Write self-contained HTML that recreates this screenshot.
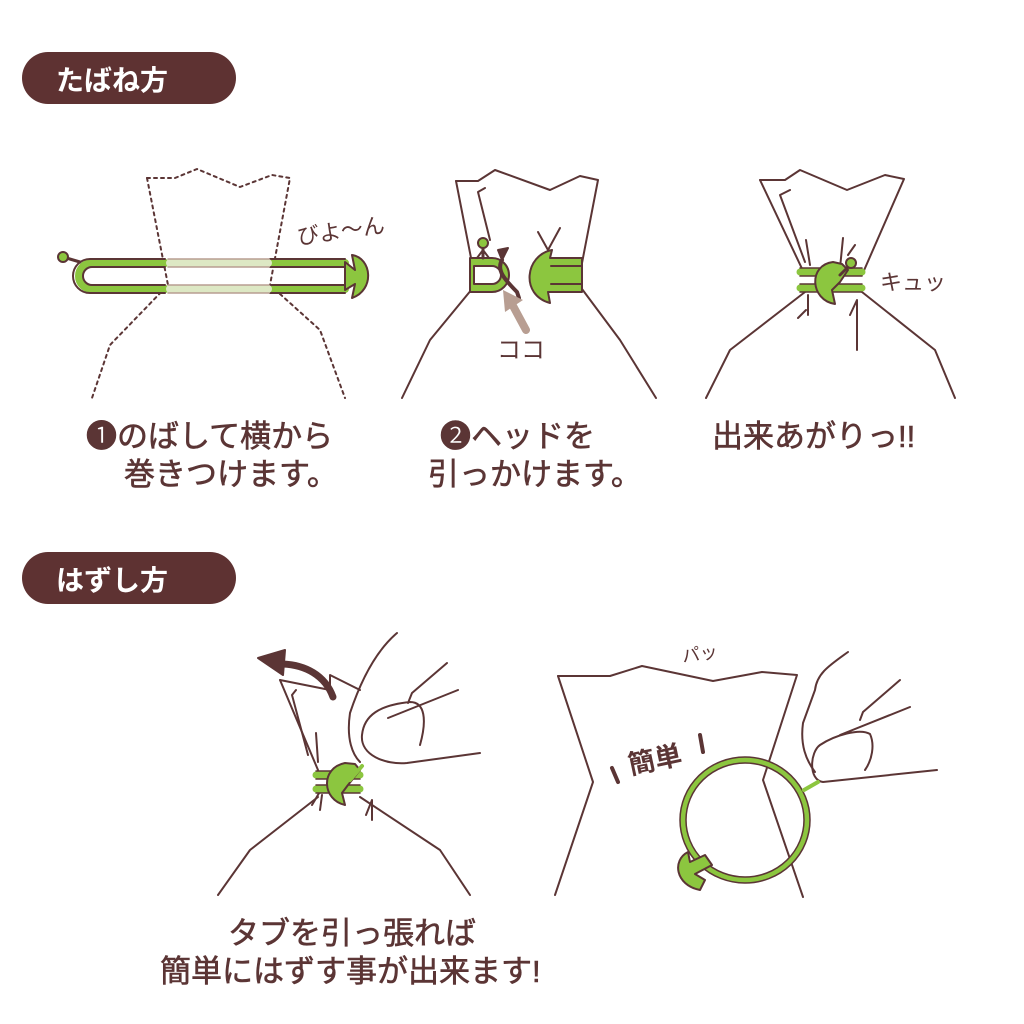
<!DOCTYPE html>
<html><head><meta charset="utf-8"><style>
body{margin:0;background:#fff}
svg{display:block}
text{font-family:"Liberation Sans","Noto Sans CJK JP",sans-serif;fill:#5b3535}
.cap{font-size:31px;stroke:#5b3535;stroke-width:0.6}
</style></head><body>
<svg width="1024" height="1024" viewBox="0 0 1024 1024" xmlns="http://www.w3.org/2000/svg">
<g stroke="#5b3535" stroke-width="2" fill="none" stroke-linejoin="round" stroke-linecap="round">
<rect x="22" y="52" width="214" height="52" rx="26" fill="#5e3232" stroke="none"/>
<rect x="22" y="552" width="214" height="52" rx="26" fill="#5e3232" stroke="none"/>

<g stroke-dasharray="3,4">
<path d="M147,178 L175,178 L197,169 L240,187 L272,175 L290,178 L270,285 L320,330 L345,398"/>
<path d="M147,178 L168,285 L110,345 L92,398"/>
</g>
<path d="M63,257 L80,262" stroke-width="3"/>
<circle cx="63" cy="257" r="5" fill="#8cc63f" stroke="#5b3535"/>
<path d="M165,263 H92 a13,13 0 0 0 0,26 H165 M270,263 H345 M270,289 H345" stroke="#8cc63f" stroke-width="8"/>
<path d="M165,259 H90 a17,17 0 0 0 0,34 H165 M165,267 H92 a9,9 0 0 0 0,18 H165 M270,259 H345 M270,267 H345 M270,285 H345 M270,293 H345" stroke-width="2"/>
<path d="M170,263 H268 M170,289 H268" stroke="#dde8c4" stroke-width="8"/>
<path d="M168,259 H269 M168,267 H269 M168,285 H269 M168,293 H269" stroke="#b89e92" stroke-width="1.5"/>
<path d="M345,262 L355,270 L352,255 C372,258 375,290 352,298 L355,284 L345,290 Z" fill="#8cc63f"/>

<path d="M456,181 L478,181 L495,170 L550,190 L580,176 L598,180 L582,263 M582,289 L620,340 L656,398"/>
<path d="M456,181 L472,263 M472,289 L430,340 L402,398"/>
<path d="M490,240 L478,192 L485,188 M548,250 L538,232 M548,250 L560,228"/>
<path d="M470,258 H492 a17,17 0 0 1 0,34 H470 Z" fill="#8cc63f"/>
<path d="M474,266 H492 a9,9 0 0 1 0,18 H474 Z" fill="#fff"/>
<path d="M483,258 V246" stroke-width="3"/>
<circle cx="483" cy="243" r="5" fill="#8cc63f"/>
<path d="M489,258 L483,250 M477,258 L483,250"/>
<path d="M502,260 C496,270 505,280 517,292 L519,298" stroke="#5b3535" stroke-width="4"/>
<path d="M502,260 L498,250 L508,248 Z" fill="#5b3535"/>
<path d="M582,258 H550 L552,250 C525,255 520,295 550,303 L548,292 H582 Z" fill="#8cc63f"/>
<path d="M551,266 H582 M551,284 H582"/>
<path d="M526,330 L512,304" stroke="#b89e92" stroke-width="8"/>
<path d="M503,290 L523,300 L505,312 Z" fill="#b89e92" stroke="none"/>

<path d="M760,180 L785,180 L800,170 L847,190 L885,175 L904,179 L862,275 M862,292 L935,350 L955,398"/>
<path d="M760,180 L805,275 M805,292 L730,350 L706,398"/>
<path d="M790,190 L780,195 L805,262 M806,240 L810,265 M843,238 L840,268 M848,255 L855,245 M806,310 L798,318 M808,295 L808,315 M857,350 L857,300 L850,315"/>
<path d="M800,272 H862 M800,288 H862" stroke="#8cc63f" stroke-width="7"/>
<path d="M800,268 H862 M800,276 H862 M800,284 H862 M800,292 H862" stroke-width="1.5"/>
<path d="M833,262 C808,265 810,300 835,304 L832,290 L840,282 L848,270 L842,264 Z" fill="#8cc63f"/>
<path d="M840,275 L850,265" stroke-width="3"/>
<circle cx="851" cy="263" r="5" fill="#8cc63f"/>

<path d="M280,680 L330,690 L330,675 L360,690"/>
<path d="M280,680 L318,770 M318,797 L250,850 L218,895"/>
<path d="M360,797 L440,850 L470,895"/>
<path d="M296,690 L292,695 L308,755 M316,733 L318,762 M322,788 L315,800 L312,805 M372,820 L372,800 L366,815 M322,795 L320,810"/>
<path d="M316,775 H360 M316,789 H360" stroke="#8cc63f" stroke-width="7"/>
<path d="M316,771 H360 M316,779 H360 M316,785 H360 M316,793 H360" stroke-width="1.5"/>
<path d="M345,763 C320,768 322,800 345,805 L342,793 L348,785 L360,770 L355,764 Z" fill="#8cc63f"/>
<path d="M350,780 L362,766" stroke="#8cc63f" stroke-width="4"/>
<path d="M333,697 C325,675 305,665 283,664" stroke="#5b3535" stroke-width="7"/>
<path d="M258,658 L285,650 L283,675 Z" fill="#5b3535"/>
<path d="M397,633 C377,650 362,677 350,713 C346,740 353,755 360,762"/>
<path d="M447,663 L412,693 L408,703 M458,690 L388,718 M480,753 L407,763 C385,765 360,755 362,735 C364,715 380,705 410,702 C425,702 427,720 420,745"/>

<path d="M558,676 L610,676 L642,666 L713,681 L762,672 L797,675 L763,780 L803,897"/>
<path d="M558,676 L593,782 L555,895"/>
<path d="M848,652 C830,665 817,673 815,690 L803,723 C800,745 806,760 815,772"/>
<path d="M900,680 L863,712 L860,720 M910,707 L840,735 M937,770 L823,782 C808,780 810,752 820,745 C835,735 860,728 870,734 C875,745 872,760 865,770"/>
<ellipse cx="745" cy="820" rx="62" ry="60" stroke="#8cc63f" stroke-width="6"/>
<ellipse cx="745" cy="820" rx="65" ry="63" stroke-width="1.5"/>
<ellipse cx="745" cy="820" rx="59" ry="57" stroke-width="1.5"/>
<path d="M804,790 L818,782" stroke="#8cc63f" stroke-width="4"/>
<path d="M688,852 C672,860 675,885 700,890 L705,880 L695,874 L712,865 L705,855 L690,862 Z" fill="#8cc63f"/>
<path d="M612,768 L618,782 M700,735 L703,752" stroke-width="4"/>
</g>

<text x="297" y="240" font-size="22" transform="rotate(-8 330 232)">びよ〜ん</text>
<text x="497" y="358" font-size="24">ココ</text>
<text x="880" y="290" font-size="22">キュッ</text>
<text x="627" y="768" font-size="27" font-weight="bold" transform="rotate(-12 660 755)">簡単</text>
<text x="682" y="660" font-size="18" transform="rotate(-8 700 655)">パッ</text>

<text x="56" y="90" font-size="28" font-weight="bold" style="fill:#fff">たばね方</text>
<text x="56" y="590" font-size="28" font-weight="bold" style="fill:#fff">はずし方</text>

<text class="cap" x="86" y="447">❶のばして横から</text>
<text class="cap" x="124" y="485">巻きつけます。</text>
<text class="cap" x="440" y="447">❷ヘッドを</text>
<text class="cap" x="428" y="485">引っかけます。</text>
<text class="cap" x="712" y="447">出来あがりっ!!</text>
<text class="cap" x="228" y="944">タブを引っ張れば</text>
<text class="cap" x="160" y="982">簡単にはずす事が出来ます!</text>
</svg>
</body></html>
